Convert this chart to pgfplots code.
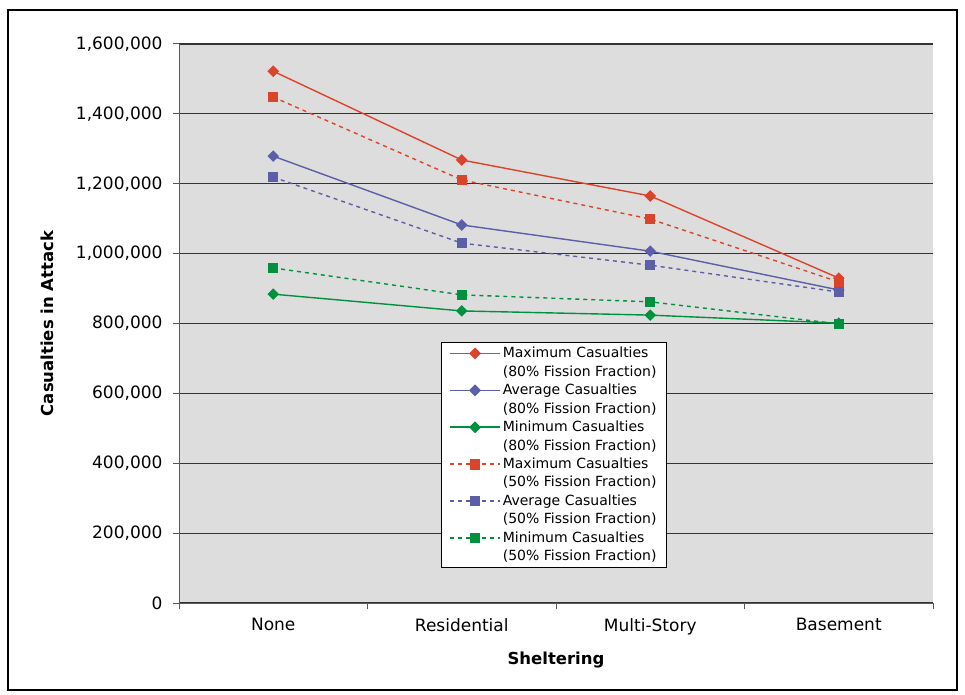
\documentclass[border=0pt]{standalone}
\usepackage{pgfplots}
\pgfplotsset{compat=1.18}
\usepackage{fontspec}
\setmainfont{DejaVu Sans}
\definecolor{maxc}{RGB}{219,68,42}
\definecolor{avgc}{RGB}{92,94,168}
\definecolor{minc}{RGB}{0,145,62}
\definecolor{plotbg}{RGB}{221,221,221}
\begin{document}
\begin{tikzpicture}[x=1pt,y=1pt]
\fill[white] (0,0) rectangle (965,694);
\useasboundingbox (0,0) rectangle (965,694);
\draw[black,line width=1.2pt] (8,4) rectangle (957,684);
\begin{axis}[
  at={(179pt,91pt)}, anchor=south west,
  scale only axis, width=754pt, height=559pt,
  xmin=-0.5, xmax=3.5, ymin=0, ymax=1600000,
  axis background/.style={fill=plotbg},
  axis x line*=bottom, axis y line*=left,
  axis line style={black!65,line width=1pt,-},
  xtick={0,1,2,3},
  xticklabels={None,Residential,Multi-Story,Basement},
  minor xtick={-0.5,0.5,1.5,2.5,3.5},
  x tick style={draw=none},
  minor x tick style={draw=black!65,line width=1pt},
  minor tick length=6pt,
  ytick={0,200000,400000,600000,800000,1000000,1200000,1400000,1600000},
  y tick style={black!65,line width=1pt},
  major tick length=6pt,
  tick align=outside,
  scaled y ticks=false,
  yticklabel style={xshift=-7pt,/pgf/number format/fixed,/pgf/number format/precision=0,/pgf/number format/1000 sep={,}},
  xticklabel style={yshift=-6pt},
  /pgf/number format/assume math mode=true,
  ticklabel style={font=\fontsize{17}{20}\selectfont},
  ymajorgrids,
  major grid style={black!80,line width=1.1pt},
  xlabel={Sheltering}, ylabel={Casualties in Attack},
  label style={font=\fontsize{16.5}{20}\selectfont\bfseries},
  xlabel style={at={(axis description cs:0.5,-0.102)},anchor=center},
  ylabel style={at={(axis description cs:-0.174,0.5)},anchor=center,rotate=0},
  legend style={at={(0.3475,0.4669)},anchor=north west,draw=black,fill=white,
    font=\fontsize{14}{18.3}\selectfont, cells={align=left}, row sep=2.5pt,
    inner xsep=8pt, inner ysep=3pt},
  legend cell align=left,
  legend image code/.code={\draw[#1,line width=1.6pt,mark repeat=2,mark phase=2,yshift=9pt] plot coordinates {(0pt,0pt) (25pt,0pt) (50pt,0pt)};},
  every axis plot/.append style={line width=1.4pt},
]
\addplot[maxc,mark=square*,mark size=3.4pt,mark options={solid,rotate=45}] coordinates {(0,1522000) (1,1268000) (2,1165000) (3,930000)};
\addlegendentry{Maximum Casualties\\(80\% Fission Fraction)}
\addplot[avgc,mark=square*,mark size=3.4pt,mark options={solid,rotate=45}] coordinates {(0,1279000) (1,1082000) (2,1007000) (3,896000)};
\addlegendentry{Average Casualties\\(80\% Fission Fraction)}
\addplot[minc,mark=square*,mark size=3.4pt,mark options={solid,rotate=45}] coordinates {(0,884000) (1,836000) (2,824000) (3,801000)};
\addlegendentry{Minimum Casualties\\(80\% Fission Fraction)}
\addplot[maxc,dash pattern=on 4pt off 4pt,mark=square*,mark size=4.5pt,mark options={solid}] coordinates {(0,1448000) (1,1211000) (2,1099000) (3,919000)};
\addlegendentry{Maximum Casualties\\(50\% Fission Fraction)}
\addplot[avgc,dash pattern=on 4pt off 4pt,mark=square*,mark size=4.5pt,mark options={solid}] coordinates {(0,1219000) (1,1030000) (2,967000) (3,890000)};
\addlegendentry{Average Casualties\\(50\% Fission Fraction)}
\addplot[minc,dash pattern=on 4pt off 4pt,mark=square*,mark size=4.5pt,mark options={solid}] coordinates {(0,959000) (1,882000) (2,862000) (3,799000)};
\addlegendentry{Minimum Casualties\\(50\% Fission Fraction)}
\end{axis}
\end{tikzpicture}
\end{document}
